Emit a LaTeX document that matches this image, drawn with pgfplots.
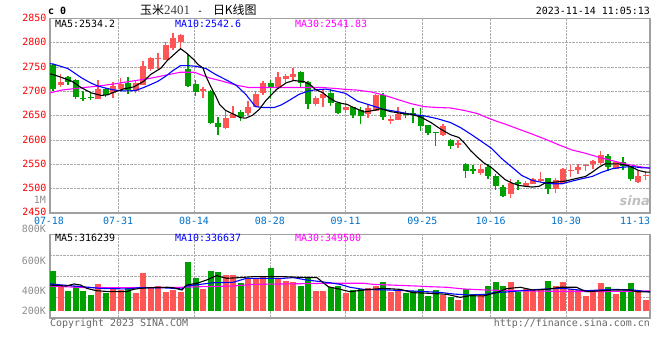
\documentclass[border=0pt]{standalone}
\usepackage{pgfplots}
\pgfplotsset{compat=1.18}
\usepackage{pgfplotstable}
\usepackage{fontspec}
\setmainfont{DejaVu Sans}
\setsansfont{DejaVu Sans}
\setmonofont{DejaVu Sans Mono}
\newfontfamily\cjk{Noto Sans CJK SC}
\newfontfamily\serifdig{Liberation Serif}
\definecolor{kred}{RGB}{255,85,85}
\definecolor{kgreen}{RGB}{0,160,0}
\definecolor{tickblue}{RGB}{0,112,200}
\definecolor{framegray}{RGB}{160,160,160}
\definecolor{gridgray}{RGB}{170,170,170}
\definecolor{mablue}{RGB}{0,0,255}
\definecolor{mamag}{RGB}{255,0,255}

% up (red) candles: index, open, high, low, close, volume (K)
\pgfplotstableread{
i O H L C V
1 2714 2736 2709 2720 372
6 2684 2724 2684 2706 396
8 2696 2720 2687 2711.5 360
9 2704 2728 2701 2716 352
11 2701 2721 2696 2717 330
12 2714 2763 2713 2752 475
13 2747 2770 2741.5 2769 364
14 2768 2779.5 2747 2769.5 381
15 2765 2801.5 2765 2796 338
16 2789 2820 2786 2809.5 355
17 2801.5 2818 2789 2816 338
20 2700.5 2709.5 2687 2705.5 360
23 2624 2661 2622.5 2646 463
24 2646 2670 2645 2654.5 463
26 2655 2680 2652 2669 442
27 2668 2700.5 2667 2695 430
28 2696 2721 2692 2718 456
30 2707.5 2740 2706 2730 442
31 2726 2736.5 2716 2731 420
32 2730 2748 2721 2735 408
35 2675 2690.5 2670 2687 345
36 2686 2704 2667 2694 345
39 2661 2677 2656 2669 330
42 2653 2674 2645 2665 367
43 2660 2695 2660 2692.5 381
45 2641.5 2650 2634 2643 340
46 2641 2667 2641 2654.5 352
52 2609.5 2633 2607.5 2628.5 316
54 2589.5 2601 2584 2594 280
57 2533 2550 2529 2541.5 323
61 2489.8 2520.4 2481.6 2511.6 410
63 2504.8 2515.6 2503.4 2511.6 360
64 2510.2 2522.4 2508.8 2520.4 352
65 2517.7 2534 2513.6 2519 360
67 2500 2522.4 2491.8 2517 381
68 2512.3 2542.9 2510.2 2539.5 410
69 2536.7 2549.7 2523.8 2538.1 360
70 2538.8 2551 2530 2544.2 352
71 2548.3 2551 2537.4 2549.7 309
72 2551 2559.9 2540.8 2557.8 352
73 2552.4 2576.9 2549.7 2568.7 403
75 2540.8 2557.8 2540.1 2555.8 323
78 2513.6 2536.7 2512.3 2525.9 352
79 2527.2 2536 2517 2528.6 280
}\upT

% down (green) candles
\pgfplotstableread{
i O H L C V
0 2755 2757 2700 2704 490
2 2729 2731 2713 2719 345
3 2724.5 2726 2684 2689 381
4 2686.5 2701 2680 2684.5 345
5 2689 2697 2682 2688 314
7 2705.5 2707.5 2688.5 2692 330
10 2718 2730 2694 2703 372
18 2747 2777.5 2709 2711.5 555
19 2716 2724.5 2691 2699 439
21 2700.5 2702 2634 2636 490
22 2636 2648 2610 2626 483
25 2658.5 2661 2639 2648 403
29 2718 2722.5 2685 2707 512
33 2740 2741.5 2709 2718 381
34 2720 2721 2663 2673.5 446
37 2696 2704 2670 2677 372
38 2677 2679 2653 2656.5 381
40 2667 2668 2645 2651 352
41 2662 2667 2633 2650 357
44 2692 2696.5 2641 2647.5 410
47 2655 2660 2645 2653 330
48 2655 2665 2635 2652 345
49 2652 2665 2619 2628 360
50 2630 2631 2610 2613.5 309
51 2617 2617 2587 2615 352
53 2601 2603 2581 2587 301
55 2551 2552 2522.5 2536 360
56 2539.5 2548 2530.5 2537.5 323
58 2545.5 2551 2519 2527 381
59 2525.9 2530.6 2498 2505.4 410
60 2503.4 2507.5 2483 2485 381
62 2512.9 2517 2498 2510.2 338
66 2521.8 2522.4 2489.8 2500 417
74 2566.7 2570.7 2536 2544.2 374
76 2554.4 2564.6 2537.4 2547.6 338
77 2545.6 2547 2515.6 2519 403
}\downT

\pgfplotsset{
  kpanel/.style={
    scale only axis, width=600bp,
    xmin=-0.4, xmax=79.6,
    axis line style={draw=framegray, line width=1.3bp},
    grid=major,
    major grid style={densely dotted, draw=gridgray, line width=0.9bp},
    major tick length=0pt,
    xtick={8.67,18.8,28.93,39.03,49.24,58.36,68.4},
    tick label style={font=\ttfamily\fontsize{10}{10}\selectfont},
    /pgf/number format/assume math mode=true,
    /pgf/number format/1000 sep={},
  },
  wick/.style={draw=none, mark=none, forget plot,
    error bars/.cd, y dir=both, y explicit, error mark=none,
    error bar style={draw=#1, line width=1.1bp}},
  body/.style={draw=none, mark=none, forget plot,
    error bars/.cd, y dir=both, y explicit, error mark=none,
    error bar style={draw=#1, line width=6bp}},
}

\begin{document}
\begin{tikzpicture}[font=\ttfamily\fontsize{10}{10}\selectfont]
\path (0bp,0bp) rectangle (660bp,360bp);

% ---------------- price panel ----------------
\begin{axis}[kpanel,
  at={(50bp,147bp)}, anchor=south west, height=194.5bp,
  ymin=2450, ymax=2850, ytick={2450,2500,...,2850},
  yticklabel style={text=red, anchor=base east, yshift=-3bp},
  xticklabels={07-31,08-14,08-28,09-11,09-25,10-16,10-30},
  xticklabel style={text=tickblue, anchor=base, yshift=-12bp},
]
\addplot[wick=kred] table[x=i, y expr={(\thisrow{H}+\thisrow{L})/2}, y error expr={(\thisrow{H}-\thisrow{L})/2}]{\upT};
\addplot[body=kred] table[x=i, y expr={(\thisrow{O}+\thisrow{C})/2}, y error expr={max(abs(\thisrow{C}-\thisrow{O})/2,0.7)}]{\upT};
\addplot[wick=kgreen] table[x=i, y expr={(\thisrow{H}+\thisrow{L})/2}, y error expr={(\thisrow{H}-\thisrow{L})/2}]{\downT};
\addplot[body=kgreen] table[x=i, y expr={(\thisrow{O}+\thisrow{C})/2}, y error expr={max(abs(\thisrow{C}-\thisrow{O})/2,0.7)}]{\downT};
% MA30
\addplot[mamag, line width=1.1bp] coordinates {
(-0.4,2697) (0,2698.6) (1.1,2702.7) (3.8,2707.5) (6,2711) (8.2,2715.6) (10.4,2721) (12.6,2726)
(14.8,2732.7) (17,2739.5) (18.8,2739.5) (19.1,2738) (20.8,2728) (22.6,2721) (24.4,2713) (26.1,2708)
(28,2708) (32.3,2708) (36,2708) (37.7,2706) (39.2,2704) (40.6,2702.7) (42.4,2699) (44.1,2692.5)
(45.9,2683.7) (47.7,2675) (49.5,2668.7) (51.2,2667) (53,2666) (54.8,2661) (56.6,2654.4) (57.9,2646)
(59,2639.5) (60.3,2632.7) (62.1,2622.4) (63.9,2612.2) (65.6,2602) (67.4,2590.5) (69.2,2579.6)
(71,2572.8) (72.8,2564.6) (74.5,2557.8) (76.3,2551) (78.1,2545.6) (79.6,2541.8)};
% MA10
\addplot[mablue, line width=1.1bp] coordinates {
(-0.4,2757) (0,2756.5) (2,2747) (3.8,2728) (5,2717.7) (6,2711) (7,2707) (8,2703.4) (9,2701.4)
(10,2701) (11,2702) (12,2707.5) (13,2714) (14,2721) (15,2731) (16,2743) (17,2753) (18,2753)
(19.1,2751.7) (20.4,2747) (21.7,2734.7) (23,2724.5) (24.4,2713) (25.7,2694) (27,2668.7) (28,2667)
(29.5,2667) (30.4,2672) (31.5,2681.6) (32.8,2694) (34,2700.7) (35,2703.4) (36.4,2704.8)
(37.7,2700.7) (39,2696) (40.6,2680) (42.4,2671.4) (44.1,2663) (45.9,2658.5) (47.7,2653)
(49.5,2649.7) (51.2,2644.2) (53,2636) (54.3,2626) (55.7,2612.2) (57,2598.6) (58.4,2583.7)
(59.9,2561) (61.2,2544.2) (62.5,2527.2) (63.9,2517) (65.2,2513) (66.5,2510.2) (67.9,2510.2)
(69.2,2515.6) (70.5,2520.4) (71.9,2525.2) (73.2,2534) (74.5,2540.8) (75.9,2544.2) (77.2,2545.6)
(78.5,2542.9) (79.6,2542.6)};
% MA5
\addplot[black, line width=1.1bp] coordinates {
(-0.4,2736) (0,2734.7) (1.1,2729) (2.5,2721) (3.8,2707.5) (5.1,2697) (6.4,2691.8) (7.3,2693)
(8.2,2699) (9.5,2705.4) (10.8,2709.5) (12.1,2721) (13,2734.7) (14.4,2748) (15.2,2763)
(16.1,2775.5) (17,2788) (17.8,2779) (18.8,2765) (19.3,2756) (20,2748) (20.4,2731) (21,2711)
(21.7,2690.5) (22.2,2673.5) (23,2661) (23.9,2654.4) (25,2646) (25.7,2645) (26.6,2651) (27.5,2663)
(28.4,2681.6) (29.8,2704) (31.1,2717.7) (32.1,2722.5) (33.5,2720) (34.3,2714) (35,2704) (36,2697)
(36.8,2687) (37.7,2679) (38.6,2675) (39.2,2673.5) (40.1,2666.7) (41.5,2657.8) (42.8,2661)
(43.7,2664.6) (45,2658.5) (46.4,2655) (47.7,2653) (49,2647.6) (50.4,2636) (51.7,2622.4) (53,2611)
(54.1,2605.4) (54.8,2595) (55.7,2578) (56.6,2564.6) (57.5,2552.4) (58.4,2544.2) (59.4,2530.6)
(60.3,2518.4) (61.2,2511.6) (62.1,2506.8) (63,2504.8) (63.9,2503.4) (64.8,2504.8) (65.6,2511.6)
(67,2513.6) (68.3,2515.6) (69.6,2520.4) (71,2525.2) (71.9,2534) (72.8,2544.2) (73.6,2551)
(75.4,2551) (76.7,2547.6) (78.1,2537.4) (79,2534.2) (79.6,2534.2)};
\end{axis}

% ---------------- volume panel ----------------
\begin{axis}[kpanel,
  at={(50bp,42bp)}, anchor=south west, height=83.3bp,
  ymin=149.25, ymax=753.2, ytick={299.3,450.9,602.4},
  xticklabels={,,,,,,}, yticklabels={,,},
]
\addplot[body=kred] table[x=i, y expr={(\thisrow{V}+200)/2}, y error expr={(\thisrow{V}-200)/2}]{\upT};
\addplot[body=kgreen] table[x=i, y expr={(\thisrow{V}+200)/2}, y error expr={(\thisrow{V}-200)/2}]{\downT};
% MA30 volume
\addplot[mamag, line width=1.1bp] coordinates {
(-0.4,381) (4.5,369) (10.7,369) (17.4,372) (19.6,376) (24,381) (26.7,393) (30.7,396) (36.9,401)
(41.4,401) (42.7,393) (48.5,381) (50.3,376) (52.5,372) (54.7,360) (57.8,352) (63.6,345) (71.1,340)
(79.6,345)};
% MA10 volume
\addplot[mablue, line width=1.1bp] coordinates {
(-0.4,396) (4,376) (6.3,364) (9.8,360) (11.6,369) (15.2,367) (17.2,360) (17.8,381) (19.6,393)
(21.4,405) (24,408) (25.8,437) (28.5,437) (30.7,437) (32,442) (33.8,425) (36.9,405) (38.3,393)
(39.6,372) (41.4,357) (44.9,352) (48,345) (51.6,335) (53.4,323) (55.6,316) (57.8,321) (58.7,333)
(60.5,338) (63.6,352) (65.8,360) (68,364) (71.1,347) (74.7,357) (77.4,352) (79.6,338)};
% MA5 volume
\addplot[black, line width=1.1bp] coordinates {
(-0.4,388) (1.8,381) (2.8,396) (3.7,388) (4.5,364) (5.8,347) (7.6,340) (9.8,340) (10.7,357)
(11.6,364) (12.9,369) (15.2,372) (16,369) (17.2,352) (17.8,388) (19.2,401) (20.5,425) (21.8,456)
(23.2,437) (24.9,442) (26.7,449) (28.5,449) (30.7,449) (33,444) (35.2,442) (36.7,376) (38.3,357)
(39.6,340) (41.4,352) (44,364) (46.3,357) (48,333) (50.3,328) (52.5,321) (54.3,299) (55.6,311)
(57.4,309) (59.1,333) (60.5,362) (62.3,372) (64,352) (65.8,357) (67.6,372) (69.8,372) (71.1,340)
(74.7,352) (76.9,352) (77.8,340) (79.6,338)};
\end{axis}

% ---------------- texts ----------------
\node[anchor=base west, inner sep=0] at (48bp,345bp) {\bfseries c 0};
\node[anchor=base west, inner sep=0] at (140bp,345bp) {{\cjk\fontsize{12}{12}\selectfont 玉米}{\serifdig\fontsize{13}{13}\selectfont\color{black!75} 2401}\hspace{7bp}-\hspace{10bp}{\cjk\fontsize{12}{12}\selectfont 日K线图}};
\node[anchor=base east, inner sep=0] at (650bp,345bp) {2023-11-14 11:05:13};

\node[anchor=base west, inner sep=0, text=black] at (55bp,332.5bp) {MA5:2534.2};
\node[anchor=base west, inner sep=0, text=mablue] at (175bp,332.5bp) {MA10:2542.6};
\node[anchor=base west, inner sep=0, text=mamag] at (295bp,332.5bp) {MA30:2541.83};

\node[anchor=base east, inner sep=0, text=black!45] at (46bp,156.7bp) {1M};
\node[anchor=base, inner sep=0, text=tickblue] at (49bp,135bp) {07-18};
\node[anchor=base, inner sep=0, text=tickblue] at (635bp,135bp) {11-13};

\node[anchor=base east, inner sep=0, text=black!45] at (46bp,127bp) {800K};
\node[anchor=base east, inner sep=0, text=black!45] at (46bp,95.3bp) {600K};
\node[anchor=base east, inner sep=0, text=black!45] at (46bp,65.3bp) {400K};
\node[anchor=base east, inner sep=0, text=black!45] at (46bp,45.7bp) {200K};

\node[anchor=base west, inner sep=0, text=black] at (55bp,118bp) {MA5:316239};
\node[anchor=base west, inner sep=0, text=mablue] at (175bp,118bp) {MA10:336637};
\node[anchor=base west, inner sep=0, text=mamag] at (295bp,118bp) {MA30:349500};

\node[anchor=base west, inner sep=0, text=black!60] at (50bp,33.5bp) {Copyright 2023 SINA.COM};
\node[anchor=base east, inner sep=0, text=black!60] at (650bp,33.5bp) {http://finance.sina.com.cn};

\node[anchor=base east, inner sep=0, text=black!25, font=\sffamily\bfseries\itshape\fontsize{13}{13}\selectfont] at (650bp,154bp) {sina};

\pgfresetboundingbox
\path (0bp,0bp) rectangle (660bp,360bp);
\end{tikzpicture}
\end{document}
